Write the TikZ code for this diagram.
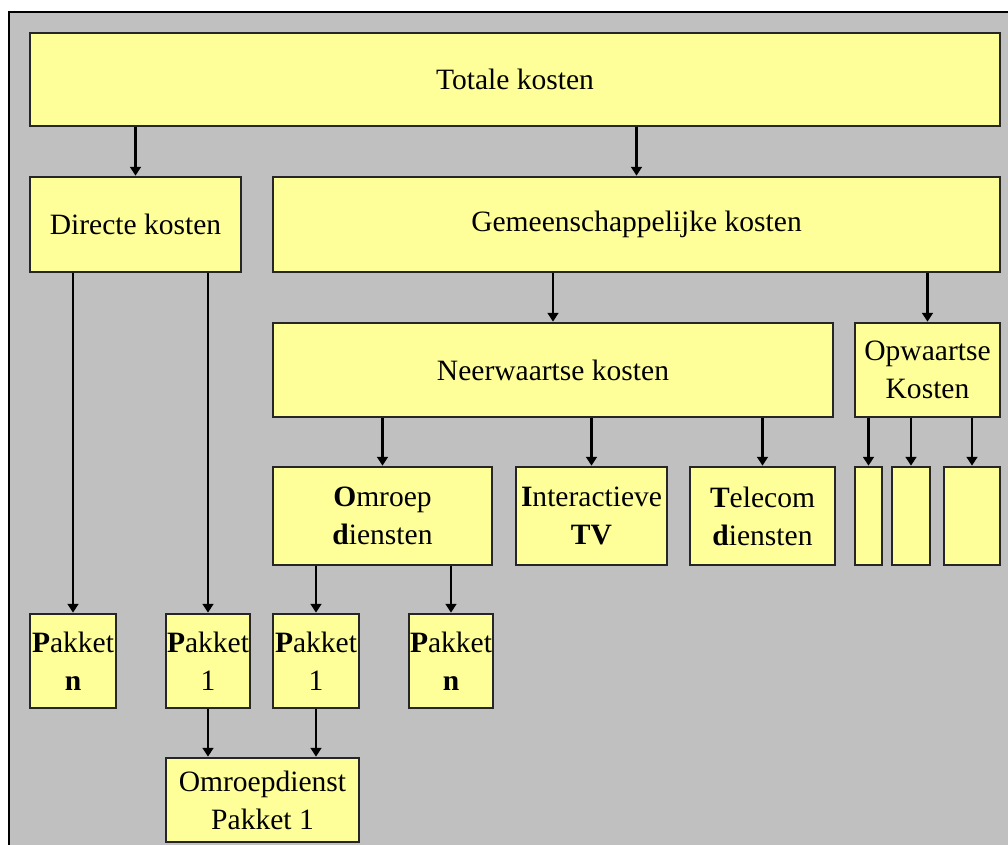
\documentclass[tikz,border=0pt]{standalone}
\usepackage{fontspec}
\setmainfont{Liberation Serif}
\usetikzlibrary{arrows.meta, positioning}
\definecolor{bggrey}{HTML}{C0C0C0}
\definecolor{boxyellow}{HTML}{FFFF99}

\begin{document}
\begin{tikzpicture}[x=0.025cm, y=-0.025cm,
  kost/.style={draw=black!85, fill=boxyellow, line width=1.9pt, inner sep=0pt, align=center,
    font=\fontsize{21}{27}\selectfont},
  arr/.style={line width=1.7pt, -{Triangle[width=0.27cm, length=0.22cm]}}]
\useasboundingbox (0,0) rectangle (1008,845);
\draw[fill=bggrey, line width=1.8pt] (9,12) rectangle (1030,870);

\node[kost, minimum width=24.25cm, minimum height=2.325cm] (totale) at (515,79.5) {Totale kosten};
\node[kost, minimum width=5.275cm, minimum height=2.375cm] (directe) at (135.5,224.5) {Directe kosten};
\node[kost, minimum width=18.175cm, minimum height=2.375cm] (gemeen) at (636.5,224.5) {Gemeenschappelijke kosten};
\node[kost, minimum width=14cm, minimum height=2.35cm] (neer) at (553,370) {Neerwaartse kosten};
\node[kost, minimum width=3.625cm, minimum height=2.35cm] (opw) at (927.5,370) {Opwaartse\\Kosten};
\node[kost, minimum width=5.475cm, minimum height=2.45cm] (omroep) at (382.5,516) {\textbf{O}mroep\\\textbf{d}iensten};
\node[kost, minimum width=3.775cm, minimum height=2.45cm] (itv) at (591.5,516) {\textbf{I}nteractieve\\\textbf{TV}};
\node[kost, minimum width=3.625cm, minimum height=2.45cm] (telecom) at (762.5,516) {\textbf{T}elecom\\\textbf{d}iensten};
\node[kost, minimum width=0.675cm, minimum height=2.45cm] (opw1) at (868.5,516) {};
\node[kost, minimum width=0.95cm, minimum height=2.45cm] (opw2) at (911,516) {};
\node[kost, minimum width=1.4cm, minimum height=2.45cm] (opw3) at (972,516) {};
\node[kost, minimum width=2.15cm, minimum height=2.35cm] (pakdn) at (73,661) {\textbf{P}akket\\\textbf{n}};
\node[kost, minimum width=2.1cm, minimum height=2.35cm] (pakde) at (208,661) {\textbf{P}akket\\1};
\node[kost, minimum width=2.15cm, minimum height=2.35cm] (pakoe) at (316,661) {\textbf{P}akket\\1};
\node[kost, minimum width=2.1cm, minimum height=2.35cm] (pakon) at (451,661) {\textbf{P}akket\\\textbf{n}};
\node[kost, minimum width=4.825cm, minimum height=2.1cm] (ompak) at (262.5,800) {Omroepdienst\\Pakket 1};

\draw[arr] (totale.south -| directe.north) -- (directe.north);
\draw[arr] (totale.south -| gemeen.north) -- (gemeen.north);
\draw[arr] (directe.south -| pakdn.north) -- (pakdn.north);
\draw[arr] (directe.south -| pakde.north) -- (pakde.north);
\draw[arr] (gemeen.south -| neer.north) -- (neer.north);
\draw[arr] (gemeen.south -| opw.north) -- (opw.north);
\draw[arr] (neer.south -| omroep.north) -- (omroep.north);
\draw[arr] (neer.south -| itv.north) -- (itv.north);
\draw[arr] (neer.south -| telecom.north) -- (telecom.north);
\draw[arr] (opw.south -| opw1.north) -- (opw1.north);
\draw[arr] (opw.south -| opw2.north) -- (opw2.north);
\draw[arr] (opw.south -| opw3.north) -- (opw3.north);
\draw[arr] (omroep.south -| pakoe.north) -- (pakoe.north);
\draw[arr] (omroep.south -| pakon.north) -- (pakon.north);
\draw[arr] (pakde.south) -- (pakde.south |- ompak.north);
\draw[arr] (pakoe.south) -- (pakoe.south |- ompak.north);
\end{tikzpicture}
\end{document}
